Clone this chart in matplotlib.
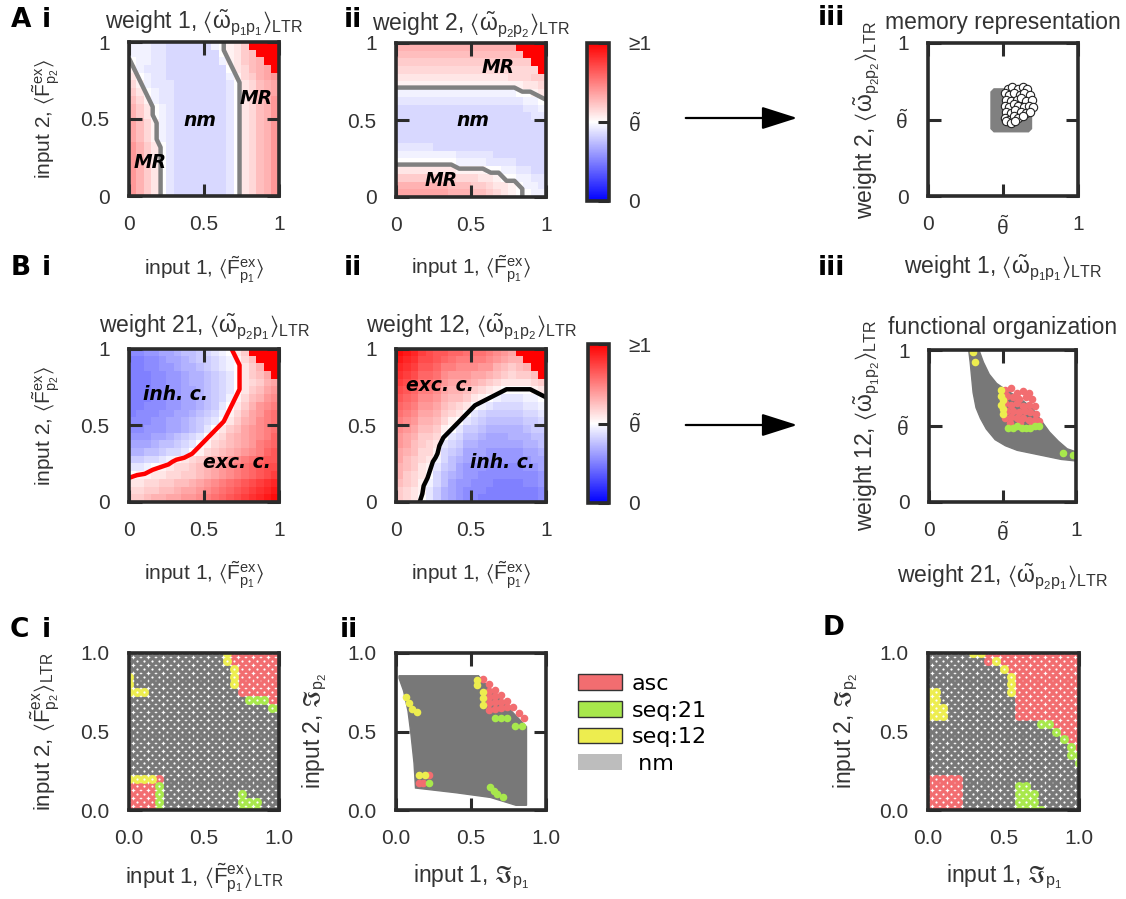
import numpy as np
import matplotlib
matplotlib.use('Agg')
import matplotlib.pyplot as plt
from matplotlib.patches import Polygon, Patch, FancyArrowPatch

plt.rcParams['font.family'] = ['Liberation Sans', 'DejaVu Sans']
plt.rcParams['mathtext.fontset'] = 'custom'
plt.rcParams['mathtext.rm'] = 'Liberation Sans'
plt.rcParams['mathtext.it'] = 'Liberation Sans:italic'
plt.rcParams['mathtext.bf'] = 'Liberation Sans:bold'
plt.rcParams['mathtext.sf'] = 'Liberation Sans'
plt.rcParams['mathtext.fallback'] = 'stixsans'

W, H = 1126, 899

# heatmap levels: char index / 40 (k = theta, E = >=1)
LEVELS = "0123456789abcdefghijklmnopqrstuvwxyzABCDE"

# weight 1 vs (input 1, input 2), rows top (input 2 = 1) to bottom
w1_rows = [
    "jjjiihhhhhhjklmoEEEE",
    "jjjiihhhhhhhklmopEEE",
    "kjjiihhhhhhhjlmopqEE",
    "ljiiihhhhhhhhkmnpqrE",
    "mkjiihhhhhhhhjlnoqrs",
    "nljiiihhhhhhhikmnpqr",
    "omkjiihhhhhhhikmnpqr",
    "pnljiihhhhhhhikmnpqs",
    "qomkjihhhhhhhikmnpqs",
    "qomkjihhhhhhhikmnpqs",
    "rpnljihhhhhhhikmnpqs",
    "rpnljihhhhhhhikmnpqs",
    "rpnljihhhhhhhikmnpqs",
    "sqomkihhhhhhhikmnpqs",
    "sqomkihhhhhhhikmnpqs",
    "sqomkihhhhhhhikmnpqs",
    "sqomkihhhhhhhikmnpqs",
    "sqomkihhhhhhhikmnpqs",
    "sqomkihhhhhhhikmnpqs",
    "sqomkihhhhhhhikmnpqs",
]

w2_rows = [
    "qqqqqqqqqqqqqqqqEEEE",
    "pppppppppppppppppEEE",
    "ooooooooooooooooooEE",
    "nnnnnnnnnnnnnnnnnnnE",
    "mmmmmmmmmmmmmmmnnnoo",
    "lllllllllllllllllmmn",
    "jjjjjjjjjjjjjjjjkklm",
    "iiiiiiiiiiiiiiiiijjk",
    "hhhhhhhhhhhhhhhhhiij",
    "hhhhhhhhhhhhhhhhhhii",
    "hhhhhhhhhhhhhhhhhhhh",
    "hhhhhhhhhhhhhhhhhhhh",
    "hhhhhhhhhhhhhhhhhhhh",
    "iiiiihhhhhhhhhhhhhhh",
    "jjjjjjjjiiiiihhhhhhh",
    "kkkkkkkkjjjjiiiihhhh",
    "mmmmmmmmllllkkjjiihh",
    "oooooooonnnmmlkkjjii",
    "qqqqqqqpppoonmmlkjji",
    "rrrrrrrqqqpponmlkkjj",
]

w21_rows = [
    "bbccddeffghijkmoEEEE",
    "aabbcddefgghijlnpEEE",
    "aabbccdeefghijkmoqEE",
    "aaabbccdeefghikmoprE",
    "aaabbccdeefghikmnoqr",
    "aaabbccddefghikmoprs",
    "aaabbccddefghjlnpqst",
    "aabbbccddefgikmoqstu",
    "abbbccddefghjlnprsuv",
    "bbbccddefghikmoqrtuv",
    "bbcccddefgikmoprstuv",
    "cccddefghikmnpqrstuw",
    "dddeffghiklnopqrsuvw",
    "eeffghhiklnopqrstuwx",
    "gghhijlmnopqrstuvwxx",
    "iijklmnnopqrstuvwxyy",
    "kllmmnnoopqrstuvwxyz",
    "mmnnooppqrstuvwxyzAB",
    "nnooppqrrstuvwxyzABC",
    "oopqqrrsstuvwxyzABCD",
]

w12_rows = [
    "DCBzyxxwwvvvutsrEEEE",
    "CBAyyxwvuuuutsrqqEEE",
    "BAzxxwuutttssqpopqEE",
    "AzywwvtsssrrqponoopE",
    "zyxvvusrrrqponmmmmno",
    "yxwuutrqqponmlkkkklm",
    "xwvttsqppomlkjiiijjk",
    "wvussrponmkjihhhhiij",
    "vutrrqonmkihggggghhi",
    "utsqqpnlkihgfffffggh",
    "tsrppolkiggfeeeeefgg",
    "srqoonkihffedddeeeff",
    "srponmihgeeddddddeef",
    "rqpnnlhgfdddcccccdde",
    "rponmjhfeddcccccccdd",
    "qpomligfdcccbbbbbccd",
    "qonmkhfedccbbbbbbbbc",
    "ponljhfdccbbbaaaabbc",
    "onmligedcbbbaaaaaaab",
    "onmkigedcbbaaaaaaaab",
]

# memory representation: gray cloud outline and MR points
mem_cloud_x = [0.42, 0.44, 0.67, 0.69, 0.69, 0.67, 0.44, 0.42]
mem_cloud_y = [0.44, 0.42, 0.42, 0.44, 0.68, 0.70, 0.70, 0.68]
mr_w1 = [0.53, 0.56, 0.60, 0.63, 0.66, 0.51, 0.54, 0.57, 0.61, 0.64, 0.68,
         0.52, 0.55, 0.59, 0.62, 0.65, 0.69, 0.51, 0.54, 0.57, 0.60, 0.64,
         0.67, 0.70, 0.52, 0.55, 0.58, 0.62, 0.65, 0.68, 0.51, 0.54, 0.57,
         0.60, 0.63, 0.52, 0.55, 0.58]
mr_w2 = [0.70, 0.71, 0.70, 0.71, 0.70, 0.67, 0.66, 0.67, 0.66, 0.67, 0.66,
         0.63, 0.62, 0.63, 0.64, 0.62, 0.63, 0.59, 0.58, 0.60, 0.59, 0.58,
         0.59, 0.58, 0.55, 0.54, 0.56, 0.55, 0.54, 0.55, 0.51, 0.50, 0.52,
         0.51, 0.52, 0.49, 0.48, 0.49]

# functional organization
band_x = [0.28, 0.34, 0.37, 0.41, 0.46, 0.52, 0.62, 0.70, 0.76, 0.82, 0.88,
          0.94, 1.00, 1.00, 0.90, 0.80, 0.70, 0.60, 0.52, 0.45, 0.39, 0.35,
          0.32, 0.30, 0.29, 0.28, 0.27]
band_y = [1.00, 1.00, 0.92, 0.84, 0.78, 0.74, 0.68, 0.62, 0.54, 0.46, 0.40,
          0.35, 0.33, 0.27, 0.28, 0.30, 0.32, 0.34, 0.37, 0.41, 0.48, 0.55,
          0.62, 0.72, 0.82, 0.92, 1.00]
fo_asc_x = [0.52, 0.56, 0.60, 0.64, 0.68, 0.53, 0.57, 0.61, 0.66, 0.70, 0.52,
            0.56, 0.60, 0.64, 0.68, 0.72, 0.53, 0.57, 0.61, 0.65, 0.69, 0.73,
            0.52, 0.56, 0.60, 0.64, 0.68, 0.72, 0.75, 0.55, 0.62, 0.70]
fo_asc_y = [0.74, 0.75, 0.72, 0.73, 0.72, 0.70, 0.69, 0.68, 0.69, 0.68, 0.65,
            0.64, 0.65, 0.63, 0.64, 0.63, 0.60, 0.60, 0.59, 0.60, 0.59, 0.58,
            0.55, 0.56, 0.55, 0.55, 0.54, 0.54, 0.53, 0.52, 0.52, 0.51]
fo_s21_x = [0.54, 0.57, 0.60, 0.63, 0.66, 0.69, 0.72, 0.75, 0.91, 0.98]
fo_s21_y = [0.49, 0.49, 0.50, 0.49, 0.49, 0.49, 0.50, 0.50, 0.32, 0.31]
fo_s12_x = [0.30, 0.31, 0.49, 0.49, 0.50, 0.49, 0.50, 0.50]
fo_s12_y = [0.985, 0.92, 0.74, 0.70, 0.67, 0.64, 0.61, 0.58]

# input grid categories (n = nm, a = asc, g = seq:21, y = seq:12), rows top to bottom
grid_vals = np.linspace(0, 1, 21)
ci_rows = [
    "nnnnnnnnnnnnnyaaaaaaa",
    "nnnnnnnnnnnnnyaaaaaaa",
    "nnnnnnnnnnnnnnyaaaaaa",
    "ynnnnnnnnnnnnnyaaaaaa",
    "ynnnnnnnnnnnnnyaaaaaa",
    "yyynnnnnnnnnnnnaaaaaa",
    "nnnnnnnnnnnnnnnngggaa",
    "nnnnnnnnnnnnnnnnnnngg",
    "nnnnnnnnnnnnnnnnnnnnn",
    "nnnnnnnnnnnnnnnnnnnnn",
    "nnnnnnnnnnnnnnnnnnnnn",
    "nnnnnnnnnnnnnnnnnnnnn",
    "nnnnnnnnnnnnnnnnnnnnn",
    "nnnnnnnnnnnnnnnnnnnnn",
    "nnnnnnnnnnnnnnnnnnnnn",
    "nnnnnnnnnnnnnnnnnnnnn",
    "yyyyannnnnnnnnnnnnnnn",
    "aaaagnnnnnnnnnnnnnnnn",
    "aaaagnnnnnnnnnngnnnnn",
    "aaaagnnnnnnnnnngggnnn",
    "aaaagnnnnnnnnnngggnnn",
]
d_rows = [
    "nnnnnnyyaaaaaaaaaaaaa",
    "nnnnnnnnayaaaaaaaaaaa",
    "nnnnnnnnnnyaaaaaaaaaa",
    "nnnnnnnnnnnyaaaaaaaaa",
    "nnnnnnnnnnnyaaaaaaaaa",
    "yynnnnnnnnnyaaaaaaaaa",
    "yynnnnnnnnnnaaaaaaaaa",
    "yyynnnnnnnnnaaaaaaaaa",
    "yyynnnnnnnnnaaaaaaaaa",
    "nnnnnnnnnnnnnnnggaaaa",
    "nnnnnnnnnnnnnnnnngaaa",
    "nnnnnnnnnnnnnnnnnngaa",
    "nnnnnnnnnnnnnnnnnnnga",
    "nnnnnnnnnnnnnnnnnnngg",
    "nnnnnnnnnnnnnnnnnnnng",
    "nnnnnnnnnnnnnnnnnnnnn",
    "aaaaannnnnnnnnnnnnnnn",
    "aaaaannnnnnnggnnnnnnn",
    "aaaaannnnnnngggnnnnnn",
    "aaaaannnnnnngggnnnnnn",
    "aaaaannnnnnnggggnnnnn",
]

# C ii: transformed inputs
cii_region_x = [0.02, 0.55, 0.60, 0.66, 0.74, 0.80, 0.87, 0.87, 0.80, 0.63, 0.40,
                0.13, 0.12, 0.10, 0.08, 0.05, 0.02]
cii_region_y = [0.855, 0.855, 0.80, 0.74, 0.66, 0.60, 0.53, 0.03, 0.03, 0.08, 0.11,
                0.14, 0.30, 0.48, 0.63, 0.76, 0.84]
cii_asc_x = [0.58, 0.62, 0.66, 0.70, 0.74, 0.78, 0.82, 0.85, 0.62, 0.62, 0.62,
             0.62, 0.66, 0.66, 0.66, 0.70, 0.70, 0.74, 0.22, 0.156, 0.18]
cii_asc_y = [0.835, 0.80, 0.765, 0.73, 0.695, 0.655, 0.62, 0.585, 0.76, 0.72, 0.68,
             0.64, 0.725, 0.685, 0.645, 0.69, 0.65, 0.655, 0.223, 0.17, 0.17]
cii_s21_x = [0.66, 0.70, 0.74, 0.79, 0.84, 0.627, 0.65, 0.67, 0.71, 0.22]
cii_s21_y = [0.584, 0.584, 0.584, 0.535, 0.535, 0.145, 0.12, 0.10, 0.08, 0.17]
cii_s12_x = [0.538, 0.538, 0.582, 0.582, 0.582, 0.067, 0.089, 0.104, 0.138, 0.156, 0.194]
cii_s12_y = [0.828, 0.796, 0.753, 0.711, 0.669, 0.72, 0.68, 0.645, 0.626, 0.223, 0.223]

RED, GREEN, YELLOW, GRAY = '#f26d70', '#a8e84c', '#eded4f', '#787878'
CAT_COLORS = {'n': GRAY, 'a': RED, 'g': GREEN, 'y': YELLOW}
SPINE = '#2b2b2b'
TXT = '#333333'
THETA = r'$\tilde{\mathrm{\theta}}$'
IN_FS = 15      # input labels
W_FS = 16.5     # weight / fraktur labels
TTL_FS = 16.5


def decode(rows):
    return np.array([[LEVELS.index(ch) / 40 for ch in row] for row in rows])


fig = plt.figure(figsize=(W / 100, H / 100), dpi=100)


def px_axes(x0, y0, x1, y1):
    return fig.add_axes([x0 / W, 1 - y1 / H, (x1 - x0) / W, (y1 - y0) / H])


def ftext(x, y, s, **kw):
    fig.text(x / W, 1 - y / H, s, **kw)


def style(ax, ticks, xlabels, ylabels):
    ax.set_xlim(0, 1)
    ax.set_ylim(0, 1)
    ax.set_xticks(ticks)
    ax.set_yticks(ticks)
    ax.set_xticklabels(xlabels)
    ax.set_yticklabels(ylabels)
    ax.tick_params(direction='in', length=9, width=2.2, color=SPINE, top=True,
                   right=True, labelsize=15, pad=14, labelcolor=TXT)
    for s in ax.spines.values():
        s.set_linewidth(2.6)
        s.set_color(SPINE)
        s.set_zorder(5)


def labels(ax, xl, xpos, yl=None, ypos=None, fs=IN_FS):
    ax.set_xlabel(xl, fontsize=fs, color=TXT)
    ax.xaxis.set_label_coords(0.5, xpos)
    ax.xaxis.label.set_va('center')
    if yl is not None:
        ax.set_ylabel(yl, fontsize=fs, color=TXT)
        ax.yaxis.set_label_coords(ypos, 0.5)
        ax.yaxis.label.set_va('center')


def title(ax, s, ypos):
    ax.text(0.5, ypos, s, transform=ax.transAxes, ha='center', va='center',
            fontsize=TTL_FS, color=TXT)


def heatmap(ax, rows, line_color):
    data = decode(rows)
    im = ax.imshow(data, cmap='bwr', vmin=0, vmax=1, extent=[0, 1, 0, 1],
                   origin='upper', interpolation='nearest', aspect='auto')
    n = data.shape[0]
    ax.contour(np.linspace(0, 1, n), np.linspace(0, 1, n), data[::-1], levels=[0.5],
               colors=[line_color], linewidths=3.2)
    style(ax, [0, 0.5, 1], ['0', '0.5', '1'], ['0', '0.5', '1'])
    return im


def inlabel(ax, x, y, s):
    ax.text(x, y, s, fontsize=13.5, fontweight='bold', fontstyle='italic',
            family='DejaVu Sans', ha='center', va='center', zorder=6)


def colorbar(im, box):
    cax = px_axes(*box)
    cb = fig.colorbar(im, cax=cax, ticks=[0, 0.5, 1])
    cb.ax.set_yticklabels(['0', THETA, '≥1'])
    cb.ax.tick_params(direction='in', length=8, width=2.2, color=SPINE,
                      labelsize=15, pad=14, labelcolor=TXT)
    cb.outline.set_linewidth(2.6)
    cb.outline.set_edgecolor(SPINE)


def category_grid(ax, rows):
    gx, gy = np.meshgrid(grid_vals, grid_vals[::-1])
    cats = np.array([list(r) for r in rows])
    for c in ['n', 'a', 'g', 'y']:
        m = cats == c
        ax.scatter(gx[m], gy[m], s=42, c=CAT_COLORS[c], linewidths=0, zorder=2)
    ax.scatter(gx.ravel(), gy.ravel(), s=2.5, c='white', linewidths=0, zorder=3)


lbl_in1 = r'input 1, $\langle\tilde{\mathrm{F}}^{\mathrm{ex}}_{\mathrm{p_1}}\rangle$'
lbl_in2 = r'input 2, $\langle\tilde{\mathrm{F}}^{\mathrm{ex}}_{\mathrm{p_2}}\rangle$'


def lbl_w(n, a, b):
    return (r'weight %s, $\langle\tilde{\mathrm{\omega}}_{\mathrm{p_%sp_%s}}'
            r'\rangle_{\mathrm{LTR}}$' % (n, a, b))


# ---- row A
ax = px_axes(129, 42, 279, 196)
heatmap(ax, w1_rows, '#808080')
title(ax, lbl_w('1', '1', '1'), 1.123)
labels(ax, lbl_in1, -0.48, lbl_in2, -0.553)
inlabel(ax, 0.85, 0.63, 'MR')
inlabel(ax, 0.14, 0.22, 'MR')
inlabel(ax, 0.47, 0.49, 'nm')

ax = px_axes(396, 43, 546, 197)
im = heatmap(ax, w2_rows, '#808080')
title(ax, lbl_w('2', '2', '2'), 1.12)
labels(ax, lbl_in1, -0.47)
inlabel(ax, 0.68, 0.84, 'MR')
inlabel(ax, 0.51, 0.50, 'nm')
inlabel(ax, 0.30, 0.11, 'MR')
colorbar(im, (587, 43, 609, 201))

ax = px_axes(928, 43, 1078, 196)
ax.add_patch(Polygon(np.column_stack([mem_cloud_x, mem_cloud_y]), closed=True,
                     fc='#808080', ec='#808080', lw=1, zorder=2))
ax.scatter(mr_w1, mr_w2, s=36, facecolors='white', edgecolors='#222222',
           linewidths=0.8, zorder=3)
style(ax, [0, 0.5, 1], ['0', THETA, '1'], ['0', THETA, '1'])
title(ax, 'memory representation', 1.136)
labels(ax, lbl_w('1', '1', '1'), -0.47, lbl_w('2', '2', '2'), -0.41, fs=W_FS)

# ---- row B
ax = px_axes(129, 349, 279, 502)
heatmap(ax, w21_rows, '#ff0000')
title(ax, lbl_w('21', '2', '1'), 1.144)
labels(ax, lbl_in1, -0.477, lbl_in2, -0.553)
inlabel(ax, 0.31, 0.70, 'inh. c.')
inlabel(ax, 0.72, 0.26, 'exc. c.')

ax = px_axes(396, 349, 546, 502)
im = heatmap(ax, w12_rows, '#000000')
title(ax, lbl_w('12', '1', '2'), 1.144)
labels(ax, lbl_in1, -0.477)
inlabel(ax, 0.29, 0.76, 'exc. c.')
inlabel(ax, 0.71, 0.26, 'inh. c.')
colorbar(im, (588, 344, 609, 503))

ax = px_axes(929, 350, 1076, 502)
ax.add_patch(Polygon(np.column_stack([band_x, band_y]), closed=True,
                     fc=GRAY, ec=GRAY, lw=1, zorder=2))
ax.scatter(fo_asc_x, fo_asc_y, s=30, c=RED, linewidths=0, zorder=3)
ax.scatter(fo_s21_x, fo_s21_y, s=30, c=GREEN, linewidths=0, zorder=3)
ax.scatter(fo_s12_x, fo_s12_y, s=30, c=YELLOW, linewidths=0, zorder=3)
style(ax, [0, 0.5, 1], ['0', THETA, '1'], ['0', THETA, '1'])
title(ax, 'functional organization', 1.15)
labels(ax, lbl_w('21', '2', '1'), -0.49, lbl_w('12', '1', '2'), -0.42, fs=W_FS)

# ---- row C / D
t3 = ['0.0', '0.5', '1.0']
ax = px_axes(129, 653, 279, 810)
category_grid(ax, ci_rows)
style(ax, [0, 0.5, 1], t3, t3)
labels(ax, r'input 1, $\langle\tilde{\mathrm{F}}^{\mathrm{ex}}_{\mathrm{p_1}}\rangle_{\mathrm{LTR}}$',
       -0.433,
       r'input 2, $\langle\tilde{\mathrm{F}}^{\mathrm{ex}}_{\mathrm{p_2}}\rangle_{\mathrm{LTR}}$',
       -0.56, fs=16)

ax = px_axes(396, 653, 546, 810)
ax.add_patch(Polygon(np.column_stack([cii_region_x, cii_region_y]), closed=True,
                     fc=GRAY, ec=GRAY, lw=1, zorder=2))
ax.scatter(cii_asc_x, cii_asc_y, s=30, c=RED, linewidths=0, zorder=3)
ax.scatter(cii_s21_x, cii_s21_y, s=30, c=GREEN, linewidths=0, zorder=3)
ax.scatter(cii_s12_x, cii_s12_y, s=30, c=YELLOW, linewidths=0, zorder=3)
style(ax, [0, 0.5, 1], t3, t3)
labels(ax, r'input 1, $\mathfrak{I}_{\mathrm{p_1}}$', -0.427,
       r'input 2, $\mathfrak{I}_{\mathrm{p_2}}$', -0.54, fs=W_FS)

ax = px_axes(928, 653, 1079, 810)
category_grid(ax, d_rows)
style(ax, [0, 0.5, 1], t3, t3)
labels(ax, r'input 1, $\mathfrak{I}_{\mathrm{p_1}}$', -0.427,
       r'input 2, $\mathfrak{I}_{\mathrm{p_2}}$', -0.543, fs=W_FS)

handles = [Patch(fc=RED, ec='#333333', lw=1, label='asc'),
           Patch(fc=GREEN, ec='#333333', lw=1, label='seq:21'),
           Patch(fc=YELLOW, ec='#333333', lw=1, label='seq:12'),
           Patch(fc='#bdbdbd', ec='none', label=' nm')]
fig.legend(handles=handles, loc='upper left', bbox_to_anchor=(578 / W, 1 - 674 / H),
           frameon=False, prop={'family': 'DejaVu Sans', 'size': 16},
           handlelength=2.0, handleheight=0.7, handletextpad=0.4,
           labelspacing=0.3, borderpad=0, borderaxespad=0)

# arrows
for yy in (118, 425):
    fig.patches.append(FancyArrowPatch((683 / W, 1 - yy / H), (800 / W, 1 - yy / H),
                                       transform=fig.transFigure,
                                       arrowstyle='-|>,head_length=1.1,head_width=0.35',
                                       mutation_scale=20, lw=1.6, color='black'))

# panel letters
pk = dict(fontsize=19, fontweight='bold', family='DejaVu Sans', ha='center',
          va='center', color='black')
for x, y, s in [(21, 20, 'A'), (46, 20, 'i'), (353, 20, 'ii'), (831, 18, 'iii'),
                (21, 268, 'B'), (46, 268, 'i'), (353, 268, 'ii'), (831, 268, 'iii'),
                (19, 630, 'C'), (46, 630, 'i'), (349, 630, 'ii'), (834, 628, 'D')]:
    ftext(x, y, s, **pk)

fig.savefig('out.png', dpi=100)
